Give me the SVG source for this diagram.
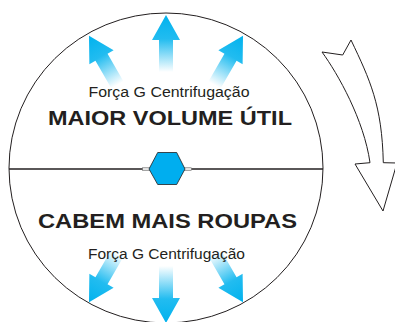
<svg xmlns="http://www.w3.org/2000/svg" width="395" height="322" viewBox="0 0 395 322">
<style>
.txt{font-family:"Liberation Sans",Arial,sans-serif;fill:#231F20;text-anchor:middle}
.small{font-size:14px}
.big{font-size:21px;font-weight:bold}
.outline{fill:#fff;stroke:#231F20;stroke-width:1;stroke-linejoin:miter}
</style>
<defs>
<linearGradient id="blue" gradientUnits="userSpaceOnUse" x1="0" y1="15" x2="0" y2="72">
<stop offset="0" stop-color="#00B2EE"/>
<stop offset="0.42" stop-color="#22BCF0"/>
<stop offset="1" stop-color="#FFFFFF"/>
</linearGradient>
<path id="ray" d="M166,15 L180,40 L173,40 L173,72 L159,72 L159,40 L152,40 Z" fill="url(#blue)"/>
</defs>
<g id="drum">
<ellipse cx="166" cy="168" rx="157" ry="155" fill="#fff" stroke="#231F20" stroke-width="1"/>
</g>
<g id="connectors">
<line x1="9" y1="169" x2="323" y2="169" stroke="#231F20" stroke-width="1.5"/>
</g>
<g id="rays">
<use href="#ray" transform="rotate(-30 166 169)"/>
<use href="#ray"/>
<use href="#ray" transform="rotate(30 166 169)"/>
<use href="#ray" transform="rotate(150 166 169)"/>
<use href="#ray" transform="rotate(180 166 169)"/>
<use href="#ray" transform="rotate(210 166 169)"/>
</g>
<g id="hub">
<rect x="142.5" y="167.8" width="7.5" height="2.6" fill="#E6E6E6" stroke="#555" stroke-width="0.5"/>
<rect x="184" y="167.8" width="7.5" height="2.6" fill="#E6E6E6" stroke="#555" stroke-width="0.5"/>
<polygon points="149,169 157.7,152.5 176.7,152.5 185,169 176.7,184.5 157.7,184.5" fill="#00AEEF" stroke="#231F20" stroke-width="0.8"/>
</g>
<g id="top-label">
<text class="txt small" x="169" y="97" textLength="161" lengthAdjust="spacingAndGlyphs">Força G Centrifugação</text>
<text class="txt big" x="170" y="125" textLength="244" lengthAdjust="spacingAndGlyphs">MAIOR VOLUME ÚTIL</text>
</g>
<g id="bottom-label">
<text class="txt big" x="167.5" y="228" textLength="259" lengthAdjust="spacingAndGlyphs">CABEM MAIS ROUPAS</text>
<text class="txt small" x="166.5" y="259" textLength="157" lengthAdjust="spacingAndGlyphs">Força G Centrifugação</text>
</g>
<g id="rotation-arrow">
<path class="outline" d="M322,52 L342.7,55 L351,40 C370,80 382,105 383.3,162.7 L397,163 L383,211 L355,164 L370,162.7 C364,120 338,74 322,52 Z"/>
</g>
</svg>
